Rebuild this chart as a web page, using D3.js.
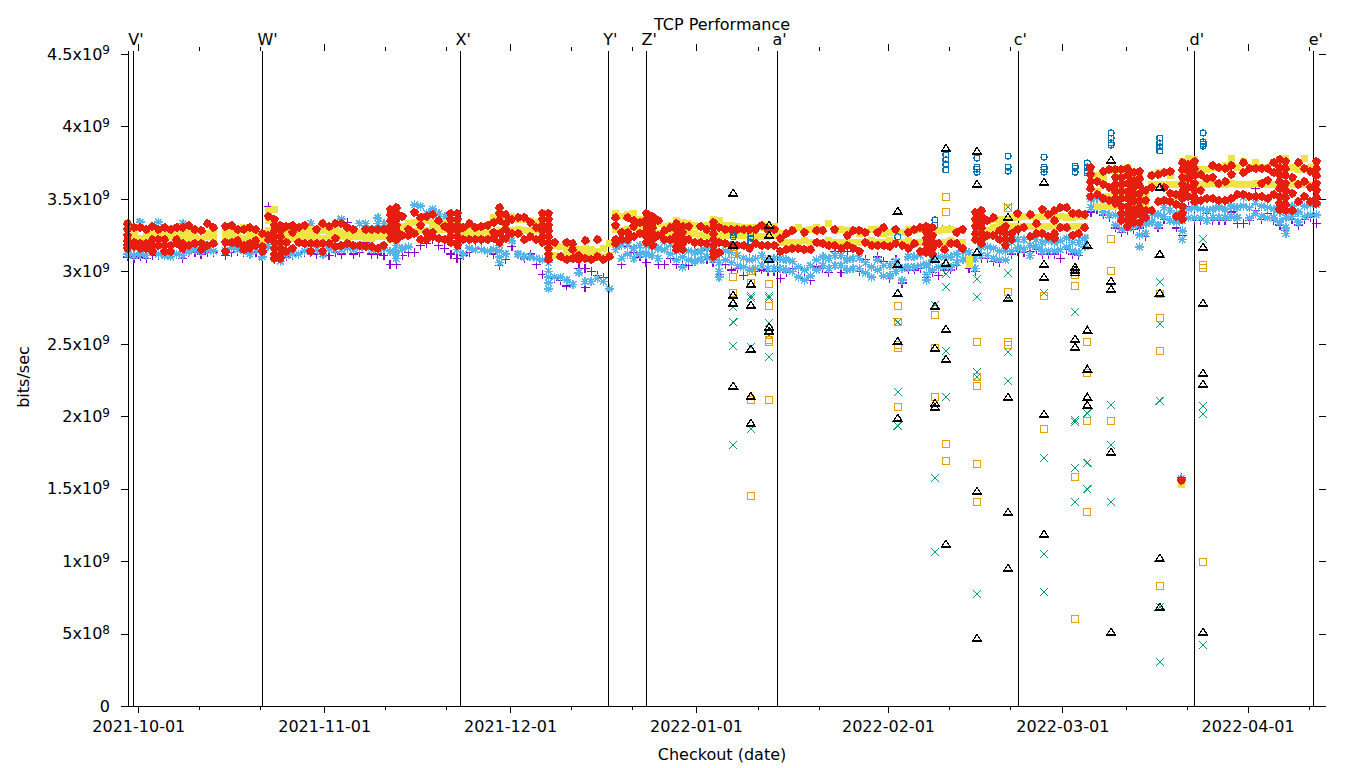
<!DOCTYPE html>
<html>
<head>
<meta charset="utf-8">
<title>TCP Performance</title>
<script src="https://cdnjs.cloudflare.com/ajax/libs/d3/7.8.5/d3.min.js"></script>
<style>
	html, body { margin: 0; background: #fff; }
	svg { display: block; }
	text { font-family: "DejaVu Sans", sans-serif; font-size: 16px; fill: #000; }
	.tick text { font-family: "DejaVu Sans", sans-serif; font-size: 16px; }
	.tick line, .domain { stroke: #000; stroke-width: 1; shape-rendering: crispEdges; }
</style>
</head>
<body>
<div id="chart"></div>
<script>

// all values below in units of 1e7 bits/sec, x in days after 2021-10-01

var valueUnit = 1e7;

var yTicks = [0, 5e8, 1e9, 1.5e9, 2e9, 2.5e9, 3e9, 3.5e9, 4e9, 4.5e9];

var majorTickDays = [0, 30.5, 61, 91.5, 123, 151.6, 182];
var majorTickLabels = ["2021-10-01", "2021-11-01", "2021-12-01", "2022-01-01", "2022-02-01", "2022-03-01", "2022-04-01"];
var minorTickDays = [10, 20, 40.5, 50.5, 71, 81, 101.6, 111.6, 133, 143, 162, 172, 192.1];

var markerDays = [-0.82, 20.36, 52.86, 77.11, 83.38, 104.87, 144.46, 173.3, 192.85];
var markerLabels = ["V'", "W'", "X'", "Y'", "Z'", "a'", "c'", "d'", "e'"];

// one checkout per day for the dense rows

var checkoutDays = [
	-2, -1, 0, 1, 2, 3, 4, 5, 6, 7,
	8, 9, 10, 11, 12, 13, 14, 15, 16, 17,
	18, 19, 20, 21, 22, 23, 24, 25, 26, 27,
	28, 29, 30, 31, 32, 33, 34, 35, 36, 37,
	38, 39, 40, 41, 42, 43, 44, 45, 46, 47,
	48, 49, 50, 51, 52, 53, 54, 55, 56, 57,
	58, 59, 60, 61, 62, 63, 64, 65, 66, 67,
	68, 69, 70, 71, 72, 73, 74, 75, 76, 77,
	78, 79, 80, 81, 82, 83, 84, 85, 86, 87,
	88, 89, 90, 91, 92, 93, 94, 95, 96, 97,
	98, 99, 100, 101, 102, 103, 104, 105, 106, 107,
	108, 109, 110, 111, 112, 113, 114, 115, 116, 117,
	118, 119, 120, 121, 122, 123, 124, 125, 126, 127,
	128, 129, 130, 131, 132, 133, 134, 135, 136, 137,
	138, 139, 140, 141, 142, 143, 144, 145, 146, 147,
	148, 149, 150, 151, 152, 153, 154, 155, 156, 157,
	158, 159, 160, 161, 162, 163, 164, 165, 166, 167,
	168, 169, 170, 171, 172, 173, 174, 175, 176, 177,
	178, 179, 180, 181, 182, 183, 184, 185, 186, 187,
	188, 189, 190, 191, 192, 193, 194
];

var yellowHigh = [
	333, 326, 331, 327, 326, 326, 326, 326, 326, 327,
	326, 325, 328, 326, 326, null, 326, 327, 329, 330,
	326, 329, 322, 342, 343, 328, 326, 326, 327, 327,
	329, 327, 328, 328, 328, 327, 327, 326, 327, 327,
	325, 325, 327, 340, 340, 331, 333, 334, 335, 335,
	334, 334, 334, 335, 332, 331, 330, 330, 331, 332,
	337, 341, 338, 338, 336, 336, 335, 334, 340, 338,
	318, 317, 316, 316, 315, 316, 315, 314, 316, 319,
	340, 338, 339, 340, 336, 337, 335, 333, 331, 332,
	335, 334, 333, 332, 331, 332, 336, 335, 332, 332,
	331, 330, 330, 330, 330, 332, 331, 326, 326, 329,
	330, 328, 329, 330, 329, 333, 328, 329, 328, 328,
	326, 327, 329, 329, 326, 327, 328, 327, 329, 328,
	329, 328, 327, 328, 329, 329, 328, 328, 308, 336,
	335, 335, 336, 336, 336, 337, 337, 338, 338, 337,
	338, 338, 337, 338, 337, 337, 338, 338, 368, 366,
	364, 370, 368, 370, 372, 366, 368, 352, 366, 368,
	368, 366, 360, 376, 378, 377, 370, 370, 372, 372,
	373, 378, 372, 376, 372, 375, 372, 372, 375, 377,
	378, 372, 370, 378, 372, 370, null
];

var yellowLow = [
	324, 323, 323, 323, 324, 323, 323, 324, 323, 323,
	323, 323, 323, 324, 323, null, 323, 323, 324, 323,
	323, 324, 318, 335, 325, 320, 324, 323, 324, 324,
	324, 324, 323, 324, 324, 324, 323, 324, 324, 323,
	323, 324, 324, 322, 322, 326, 328, 328, 328, 328,
	329, 329, 329, 325, 325, 326, 326, 326, 326, 326,
	327, 328, 329, 328, 329, 328, 328, 328, 326, 325,
	311, 310, 311, 310, 310, 311, 310, 310, 310, 311,
	329, 328, 329, 330, 330, 328, 328, 326, 326, 326,
	326, 325, 326, 326, 325, 325, 325, 325, 325, 325,
	325, 325, 325, 324, 324, 324, 325, 320, 320, 320,
	320, 321, 320, 320, 320, 321, 320, 320, 320, 320,
	320, 320, 321, 320, 320, 321, 320, 320, 321, 320,
	320, 320, 321, 320, 320, 321, 320, 320, 305, 322,
	326, 328, 330, 331, 331, 331, 331, 331, 331, 331,
	331, 331, 331, 331, 331, 331, 331, 331, 352, 345,
	345, 345, 345, 345, 345, 345, 345, 345, 360, 360,
	360, 360, 352, 360, 362, 360, 360, 360, 361, 360,
	360, 361, 360, 360, 360, 361, 360, 360, 360, 361,
	360, 360, 361, 360, 360, 360, null
];

var starValues = [
	312, 311, 312, 311, 314, 312, 311, 310, 312, 311,
	314, 315, 314, 315, 314, null, 314, 316, 315, 314,
	312, 315, 310, 317, 309, 307, 311, 312, 312, 314,
	314, 315, 312, 316, 315, 315, 316, 315, 316, 317,
	315, 315, 316, 314, 309, 316, 317, 346, 345, 340,
	343, 340, 338, 328, 315, 312, 316, 315, 315, 314,
	315, 310, 312, 321, 312, 310, 310, 309, 308, 300,
	296, 296, 294, 291, 299, 293, 293, 295, 293, 288,
	315, 309, 312, 309, 312, 312, 311, 309, 315, 312,
	308, 303, 308, 307, 308, 310, 308, 300, 308, 306,
	304, 303, 301, 302, 304, 302, 302, 302, 301, 300,
	296, 294, 297, 301, 304, 302, 304, 304, 301, 302,
	302, 299, 296, 301, 297, 297, 300, 294, 303, 303,
	304, 298, 301, 303, 303, 303, 306, 308, 307, 302,
	311, 311, 309, 308, 308, 314, 316, 315, 311, 317,
	314, 314, 314, 315, 317, 314, 313, 317, 344, 345,
	341, 339, 332, 329, 330, 331, 325, 326, 334, 332,
	338, 335, 334, 328, 337, 337, 337, 335, 337, 337,
	337, 338, 337, 345, 337, 340, 338, 337, 337, 334,
	330, 338, 334, 338, 339, 339, null
];

// second star sample per day from day 78 on, the band is thicker there

var starUpperFirstDay = 78;
var starUpper = [
	320, 318, 318, 316, 318, 318, 317, 316, 320, 318,
	314, 310, 314, 313, 314, 316, 314, 306, 314, 313,
	311, 309, 308, 309, 311, 308, 309, 309, 308, 307,
	303, 301, 304, 308, 310, 309, 311, 311, 308, 309,
	309, 306, 303, 308, 304, 304, 307, 302, 310, 310,
	311, 305, 308, 310, 310, 310, 312, 314, 313, 309,
	317, 317, 316, 314, 314, 320, 322, 322, 318, 322,
	320, 321, 320, 321, 323, 320, 320, 323, 350, 351,
	347, 345, 339, 336, 337, 338, 333, 333, 340, 339,
	344, 342, 340, 335, 343, 344, 343, 342, 343, 344,
	343, 345, 344, 351, 344, 347, 345, 344, 343, 341,
	337, 345, 341, 345, 346, 346
];

var plusValues = [
	310, 309, 310, 309, 311, 311, 311, 312, 312, 309,
	313, 313, 312, 313, 313, null, 311, 313, 314, 313,
	312, 313, 313, 345, 308, 307, 310, 311, 312, 313,
	313, 312, 312, 311, 313, 312, 334, 312, 313, 320,
	312, 312, 311, 305, 305, 311, 313, 313, 318, 319,
	322, 318, 316, 312, 309, 311, 313, 316, 316, 313,
	312, 304, 308, 317, 312, 309, 312, 305, 298, 292,
	295, 294, 290, 291, 302, 302, 300, 297, 296, 310,
	322, 305, 317, 313, 310, 306, 319, 305, 305, 309,
	305, 305, 304, 314, 315, 308, 306, 298, 305, 301,
	302, 297, 309, 300, 301, 300, 300, 295, 299, 302,
	302, 295, 294, 303, 302, 299, 314, 299, 314, 302,
	300, 308, 296, 310, 307, 295, 308, 292, 301, 301,
	302, 296, 299, 297, 301, 301, 304, 315, 302, 300,
	309, 309, 307, 306, 314, 312, 314, 313, 314, 315,
	312, 312, 312, 309, 315, 312, 311, 323, 341, 343,
	339, 337, 330, 327, 328, 329, 330, 324, 334, 330,
	336, 335, 330, 325, 345, 335, 335, 340, 335, 335,
	335, 341, 333, 333, 335, 357, 336, 340, 335, 332,
	328, 336, 332, 336, 337, 333, null
];

// extra samples on busy days: [day, values...]

var starExtra = [
	[0, 334], [3, 334], [7, 333], [23, 313, 310], [28, 333], [33, 336], [36, 333], [37, 333],
	[39, 337, 333], [40, 333], [42, 322, 318, 314, 311], [59, 318, 314, 306], [67, 306, 296, 292, 288],
	[95, 312, 306, 296], [129, 304, 294], [164, 317, 332], [171, 322], [188, 326], [170.8, 157]
];
var plusExtra = [[73, 289], [183, 342], [170.8, 158]];
var yellowExtra = [[170.8, 153], [41, 332], [42, 331], [22, 333], [21, 328], [171, 368], [156, 360], [157, 355], [158, 352], [159, 352], [160, 355], [161, 356], [162, 355], [163, 353], [164, 354]];

var redRows = [
	[-2, 333, 329, 325, 321, 318, 316], [-1, 330, 320, 317], [0, 330, 319, 316], [1, 329, 319, 316],
	[2, 331, 322, 318, 314], [3, 329, 322, 318], [4, 330, 322, 318, 314], [5, 329, 318, 314],
	[6, 330, 322, 319], [7, 330, 319, 316], [8, 332, 318], [9, 329, 319], [10, 328, 319, 315],
	[11, 333, 318], [12, 330, 319], [14, 331, 320, 314], [15, 332, 320], [16, 329, 321, 319],
	[17, 329, 318, 315], [18, 330, 319, 316], [19, 329, 321, 318], [20, 326, 317, 314],
	[21, 338, 325, 322], [22, 336, 332, 328, 324, 320, 316, 312, 309], [23, 332, 328, 324, 320, 316, 312, 309],
	[24, 331, 320, 314], [25, 332, 327, 316], [26, 330, 320], [27, 332, 319], [28, 319, 314],
	[29, 329, 319], [30, 333, 319, 314], [31, 331, 319], [32, 333, 323, 317], [33, 333, 318],
	[34, 330, 319], [35, 329, 318], [36, 318], [37, 329, 317], [38, 329, 317], [39, 329, 316],
	[40, 329, 318], [41, 343, 339, 335, 331, 327, 323], [42, 344, 340, 336, 332, 328, 325, 322],
	[43, 338, 325], [44, 329, 325], [45, 341, 326], [46, 337, 332, 322], [47, 338, 327, 322],
	[48, 339, 327, 324], [49, 335, 323], [50, 331, 322], [51, 340, 336, 332, 328, 324, 320],
	[52, 340, 336, 332, 328, 324, 320, 318], [53, 330, 322], [54, 333, 322], [55, 330, 322], [56, 331, 322],
	[57, 332, 322], [58, 334, 327, 323], [59, 344, 340, 335, 326, 320], [60, 339, 333, 329, 323],
	[61, 336, 326], [62, 337, 326], [63, 337, 322], [64, 334, 324], [65, 330, 322],
	[66, 340, 336, 332, 328, 324, 320], [67, 340, 336, 332, 328, 324, 320, 316, 312, 308], [68, 320],
	[69, 310], [70, 320, 308], [71, 319, 315, 309], [72, 311, 308], [73, 321, 309], [74, 308],
	[75, 322, 310], [76, 308], [77, 310], [78, 337, 332, 322, 319], [79, 327, 322], [80, 337, 327, 322],
	[81, 335, 331, 324], [82, 334, 326], [83, 340, 336, 332, 328, 324, 320], [84, 338, 334, 330, 326, 322, 318],
	[85, 335, 325], [86, 328, 322], [87, 330, 322], [88, 333, 329, 325, 321, 317, 315],
	[89, 331, 327, 323, 319, 315], [90, 331, 322], [91, 320], [92, 331, 320], [93, 329, 319],
	[94, 334, 330, 326, 322, 318, 314, 310], [95, 330, 320, 313], [96, 329, 319], [97, 329, 318], [98, 329, 318],
	[99, 329, 318], [100, 329, 316], [101, 329, 319], [102, 332, 318], [103, 329, 318], [104, 329, 318],
	[105, 323, 314], [106, 326, 315], [107, 328, 316], [108, 316], [109, 327, 315], [110, 315],
	[111, 328, 320], [112, 328, 319], [113, 318], [114, 329, 318], [115, 316], [116, 325, 318],
	[117, 328, 316], [118, 328, 314], [119, 327, 320], [120, 318], [121, 327, 318], [122, 330, 318],
	[123, 317], [124, 329, 319], [125, 318], [126, 327, 316], [127, 329, 319], [128, 330, 314],
	[129, 331, 327, 323, 319, 315, 313], [130, 330, 325, 320, 316, 312], [131, 319], [132, 315], [133, 319],
	[134, 327, 319], [135, 329, 316], [137, 341, 336, 331, 326, 322], [138, 342, 338, 334, 330, 326, 322, 319],
	[139, 335, 325], [140, 337, 325], [141, 328, 322], [142, 331, 326, 322, 318], [143, 326, 322],
	[144, 340, 329], [145, 330], [146, 339, 324], [147, 333, 326], [148, 343, 326], [149, 339, 324],
	[150, 342, 335, 326, 323], [151, 344, 330], [152, 344, 330], [153, 340, 325], [154, 340, 326],
	[155, 339, 330], [156, 372, 367, 362, 357, 352], [157, 362, 353], [158, 369, 360, 350],
	[159, 370, 358, 349], [160, 370, 365, 360, 355, 350, 347], [161, 370, 365, 360, 355, 350, 345, 340, 335],
	[162, 371, 366, 361, 355, 350, 345, 340, 335, 331], [163, 368, 363, 358, 353, 348, 343, 338, 334],
	[164, 369, 364, 359, 354, 349, 344, 339, 334],
	[165, 356, 349, 342, 337], [166, 366, 358, 342], [167, 367, 348], [168, 368, 358, 349],
	[169, 369, 354, 348], [170, 353, 346, 338], [170.8, 156], [171, 375, 370, 365, 360, 355, 350, 345, 340, 336],
	[172, 374, 369, 364, 358, 352], [173, 376, 371, 366, 361, 356, 351, 348], [174, 367, 356, 349], [175, 364, 350],
	[176, 373, 365, 350], [177, 372, 361, 349], [178, 371, 362, 349], [179, 373, 367, 350], [180, 353],
	[181, 375, 368, 353], [182, 371, 352], [183, 371, 352], [184, 371, 361, 352], [185, 371, 363, 350],
	[186, 375, 368, 353], [187, 377, 372, 367, 362, 357, 352, 347, 343], [188, 376, 371, 366, 361, 356, 351, 346, 342],
	[189, 365, 354, 342], [190, 375, 360, 348], [191, 371, 362, 352], [192, 369, 358, 348],
	[193, 376, 371, 366, 361, 356, 351, 347]
];

// sparse outliers, [day, values...]

var triangleRows = [
	[97.6, 354.1, 318.2, 283.7, 278.2, 221], [100.5, 291.3, 276.8, 246.5, 214, 195.4],
	[103.5, 332, 325.1, 308.6, 261.7, 258.9], [124.6, 341.7, 305.1, 285.1, 252, 198.9],
	[130.7, 308.6, 276.1, 247.2, 209.2, 206.5], [132.5, 385.1, 305.8, 260.3, 239.6, 112],
	[137.6, 383.1, 360.3, 313.4, 148.5, 47.1], [142.7, 337.5, 281.7, 213.4, 134, 95.4],
	[148.6, 361.7, 305.1, 296.1, 201.6, 118.9], [153.7, 303, 301, 299, 253.4, 247.9],
	[155.7, 318.2, 259.6, 232.7, 213.4, 207.9], [159.6, 376.9, 293.4, 287.9, 175.4, 51.3],
	[167.6, 358.2, 312, 285.1, 102.3, 68.5], [174.7, 316.9, 278.2, 229.9, 222.3, 51.3]
];
var squareRows = [
	[97.6, 312, 296.1, 285.1], [100.5, 300.3, 292, 211.3, 145.1], [103.5, 291.3, 276.1, 252.7, 251.3, 211.3],
	[124.6, 276.1, 265, 249.2, 247.2, 206.5], [130.7, 270, 247.2, 213.4], [132.5, 351.6, 341, 181, 169.2],
	[137.6, 251.3, 227.2, 221, 167.2, 140.9], [142.7, 343.8, 323, 285.8, 251.3, 249.2], [148.6, 283, 191.3],
	[153.7, 297.7, 290, 158.2, 60.2], [155.7, 251.3, 229.9, 196.8, 134], [159.6, 322.4, 300.3, 196.8],
	[167.6, 284.4, 267.9, 245.1, 83], [174.7, 304.4, 302.5, 99.5]
];
var crossRows = [
	[97.6, 275.4, 265, 248.5, 180.3], [100.5, 283, 281.7, 247.9, 191.3], [103.5, 283, 281.7, 264.4, 256.2, 241],
	[124.6, 265, 216.8, 193.4], [130.7, 276.8, 157.5, 106.4], [132.5, 329.3, 298.2, 289.2, 245.1, 213.4],
	[137.6, 294.8, 282.4, 230.6, 227.2, 77.5], [142.7, 344.5, 298.9, 281.7, 244.4, 224.4],
	[148.6, 285.1, 171.3, 105.1, 78.9], [153.7, 272, 197.5, 196.1, 164.4, 140.9], [155.7, 202.3, 167.9, 149.9],
	[159.6, 207.9, 180.3, 140.9], [167.6, 292.7, 263.7, 210.7, 68.5, 30.6], [174.7, 322.4, 207.2, 201.6, 42.3]
];
var circleRows = [
	[97.6, 326.6, 325.2, 323.9], [100.5, 325.9, 323, 320.3], [124.6, 323.9], [130.7, 335.5, 332],
	[132.5, 380.4, 376.9, 374.1, 370], [137.6, 378.2, 372, 370.6, 368.5], [142.7, 379.6, 372, 369.2],
	[148.6, 378.9, 372, 370.6, 368.5], [153.7, 372.7, 371.3, 368.5], [155.7, 374.8, 372, 369.2, 367.9],
	[159.6, 395.5, 392, 388.6, 387.2], [167.6, 392, 388.6, 385.9, 383.1], [174.7, 395.5, 389.3, 387.9, 386.5]
];

// marker shapes, drawn in gnuplot's order

var shapes = {
	plus: "M-4.5,0H4.5M0,-4.5V4.5",
	cross: "M-4,-4L4,4M-4,4L4,-4",
	star: "M-4.5,0H4.5M0,-4.5V4.5M-3.3,-3.3L3.3,3.3M-3.3,3.3L3.3,-3.3",
	square: "M-3.5,-3.5H3.5V3.5H-3.5Z",
	solidSquare: "M-3.5,-3.5H3.5V3.5H-3.5Z",
	circle: d3.symbol(d3.symbolCircle, 28)(),
	// jagged pixel blob like the png terminal's filled circle
	dot: "M-1,-4.5H1V-3.5H2.5V-2.5H3.5V-1H4.5V1H3.5V2.5H2.5V3.5H1V4.5H-1V3.5H-2.5V2.5H-3.5V1H-4.5V-1H-3.5V-2.5H-2.5V-3.5H-1Z",
	triangle: "M-4.3,3H4.3L0,-3.7Z"
};

var svgWidth = 1360;
var svgHeight = 768;

var svg = d3.select("#chart")
	.append("svg")
	.attr("width", svgWidth)
	.attr("height", svgHeight);

var xScale = d3.scaleLinear().domain([0, 182]).range([138.3, 1247.6]);
var yScale = d3.scaleLinear().domain([0, 4.5e9]).range([706.3, 54]);

var plotLeft = 128;
var plotRight = 1319;
var plotTop = 51;
var plotBottom = yScale(0);

function sparseToPoints(rows) {
	var points = [];
	rows.forEach(function(row) {
		row.slice(1).forEach(function(v) {
			points.push({ day: row[0], value: v * valueUnit });
		});
	});
	return points;
}

function dailyToPoints(values, days) {
	var points = [];
	values.forEach(function(v, i) {
		if (v !== null) {
			points.push({ day: days[i] + 0.3, value: v * valueUnit });
		}
	});
	return points;
}

// the extras share the 0.3 day sample offset of the daily rows

function extraToPoints(rows) {
	return sparseToPoints(rows.map(function(row) {
		return [row[0] + 0.3].concat(row.slice(1));
	}));
}

// vertical checkout markers, behind the data

var markerGroup = svg.append("g");

markerGroup.selectAll("line")
	.data(markerDays)
	.enter()
	.append("line")
	.attr("x1", d => xScale(d))
	.attr("x2", d => xScale(d))
	.attr("y1", plotTop)
	.attr("y2", plotBottom)
	.attr("stroke", "#000")
	.attr("stroke-width", 1)
	.attr("shape-rendering", "crispEdges");

markerGroup.selectAll("text")
	.data(markerDays)
	.enter()
	.append("text")
	.attr("x", d => xScale(d) - 5)
	.attr("y", 45)
	.text((d, i) => markerLabels[i]);

function drawSeries(points, shape, color, filled, width) {
	svg.append("g")
		.selectAll("path")
		.data(points)
		.enter()
		.append("path")
		.attr("transform", d => `translate(${xScale(d.day)}, ${yScale(d.value)})`)
		.attr("d", shapes[shape])
		.attr("fill", filled ? color : "none")
		.attr("stroke", filled ? "none" : color)
		.attr("stroke-width", width || 1.2)
		.attr("shape-rendering", "crispEdges");
}

var starUpperDays = checkoutDays.filter(d => d >= starUpperFirstDay);

drawSeries(dailyToPoints(plusValues, checkoutDays).concat(extraToPoints(plusExtra)), "plus", "#9400d3", false);
drawSeries(sparseToPoints(crossRows), "cross", "#009e73", false, 1);
drawSeries(dailyToPoints(starValues, checkoutDays).concat(dailyToPoints(starUpper, starUpperDays), extraToPoints(starExtra)), "star", "#56b4e9", false, 1.5);
drawSeries(sparseToPoints(squareRows), "square", "#e69f00", false);
drawSeries(dailyToPoints(yellowHigh, checkoutDays).concat(dailyToPoints(yellowLow, checkoutDays), extraToPoints(yellowExtra)), "solidSquare", "#f0e442", true);
drawSeries(sparseToPoints(circleRows), "circle", "#0072b2", false);
drawSeries(extraToPoints(redRows), "dot", "#e51e10", true);
drawSeries(sparseToPoints(triangleRows), "triangle", "#000", false);

// axes

var bottomAxis = d3.axisBottom(xScale)
	.tickValues(majorTickDays)
	.tickFormat((d, i) => majorTickLabels[i])
	.tickSize(7)
	.tickSizeOuter(0)
	.tickPadding(7);

var bottomMinor = d3.axisBottom(xScale)
	.tickValues(minorTickDays)
	.tickFormat("")
	.tickSize(4)
	.tickSizeOuter(0);

var topAxis = d3.axisTop(xScale).tickValues(majorTickDays).tickFormat("").tickSize(7);
var topMinor = d3.axisTop(xScale).tickValues(minorTickDays).tickFormat("").tickSize(4);

function formatY(v) {
	if (v === 0) return "0";
	var exponent = Math.floor(Math.log10(v));
	return (v / Math.pow(10, exponent)) + "x10|" + exponent;
}

var leftAxis = d3.axisLeft(yScale)
	.tickValues(yTicks)
	.tickFormat(formatY)
	.tickSize(7)
	.tickSizeOuter(0)
	.tickPadding(11);

var rightAxis = d3.axisRight(yScale).tickValues(yTicks).tickFormat("").tickSize(7);

var bottomGroup = svg.append("g").attr("transform", `translate(0, ${plotBottom})`).call(bottomAxis);
bottomGroup.select(".domain").attr("d", `M121,0.5H1326`);
var minorGroup = svg.append("g").attr("transform", `translate(0, ${plotBottom})`).call(bottomMinor);
minorGroup.select(".domain").remove();

svg.append("g").attr("transform", `translate(0, ${plotTop})`).call(topAxis).select(".domain").remove();
svg.append("g").attr("transform", `translate(0, ${plotTop})`).call(topMinor).select(".domain").remove();

var leftGroup = svg.append("g").attr("transform", `translate(${plotLeft}, 0)`).call(leftAxis);
leftGroup.select(".domain").attr("d", `M0.5,${plotTop}V${plotBottom}`);

svg.append("g").attr("transform", `translate(${plotRight}, 0)`).call(rightAxis).select(".domain").remove();

// superscript exponents in the y labels

leftGroup.selectAll(".tick text").each(function() {
	var label = d3.select(this);
	var parts = label.text().split("|");
	if (parts.length < 2) return;
	label.text(parts[0]);
	label.append("tspan")
		.attr("dy", "-0.45em")
		.style("font-size", "12px")
		.text(parts[1]);
});

// titles

svg.append("text")
	.attr("x", 722)
	.attr("y", 30)
	.attr("text-anchor", "middle")
	.text("TCP Performance");

svg.append("text")
	.attr("x", 722)
	.attr("y", 760)
	.attr("text-anchor", "middle")
	.text("Checkout (date)");

svg.append("text")
	.attr("transform", "translate(29, 377) rotate(-90)")
	.attr("text-anchor", "middle")
	.text("bits/sec");

</script>
</body>
</html>
